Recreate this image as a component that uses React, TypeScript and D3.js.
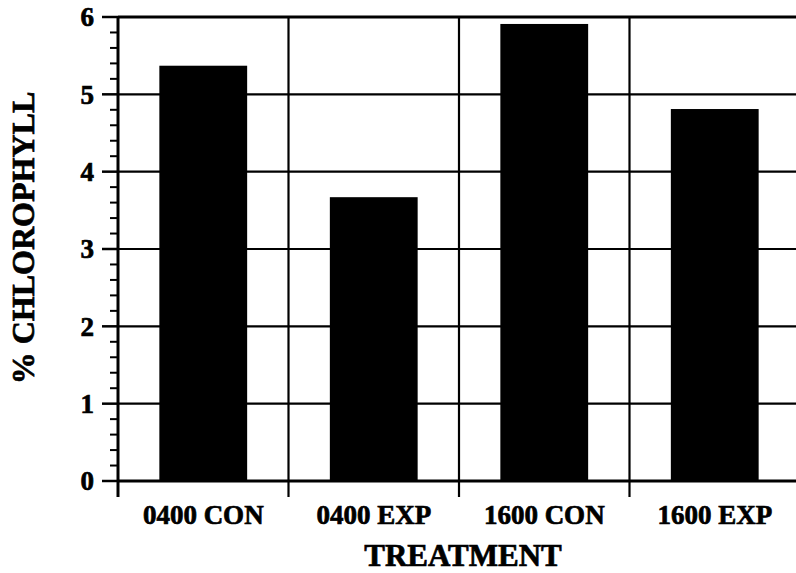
import React from "react";
import * as d3 from "d3";

const categories = ["0400 CON", "0400 EXP", "1600 CON", "1600 EXP"];
const values = [5.37, 3.67, 5.91, 4.81];
const yTicks = [0, 1, 2, 3, 4, 5, 6];

const W = 796, H = 573;
const left = 118, right = 800, top = 17, bottom = 481;
const FONT = "Liberation Serif";

export default function App() {
  const x = d3.scaleBand<string>().domain(categories).range([left, right]).padding(0);
  const y = d3.scaleLinear().domain([0, 6]).range([bottom, top]);
  const bw = x.bandwidth() * 0.515;
  const minor = d3.range(0, 6.0001, 0.2).filter((v) => Math.abs(v - Math.round(v)) > 1e-6);
  const boundaries = categories.map((c) => x(c) as number);
  const txt = { fontFamily: FONT, fontWeight: 700, stroke: "#000", strokeWidth: 0.7 } as React.CSSProperties;

  return (
    <svg width={W} height={H} style={{ position: "absolute", left: 0, top: 0, background: "#fff" }}>
      {yTicks.map((t) => (
        <line key={"g" + t} x1={left} x2={right} y1={y(t)} y2={y(t)} stroke="#000" strokeWidth={t === 0 || t === 6 ? 3 : 2.2} />
      ))}
      {boundaries.slice(1).map((b, i) => (
        <line key={"v" + i} x1={b} x2={b} y1={top} y2={bottom} stroke="#000" strokeWidth={2.2} />
      ))}
      {categories.map((c, i) => {
        const cx = (x(c) as number) + x.bandwidth() / 2;
        return (
          <rect key={c} x={cx - bw / 2} y={y(values[i])} width={bw} height={y(0) - y(values[i])} fill="#000" />
        );
      })}
      <line x1={left} x2={left} y1={top - 1} y2={bottom + 16} stroke="#000" strokeWidth={3} />
      {yTicks.map((t) => (
        <g key={"t" + t}>
          <line x1={left - 16} x2={left} y1={y(t)} y2={y(t)} stroke="#000" strokeWidth={2.5} />
          <text x={94} y={y(t)} dy="0.34em" textAnchor="end" style={{ ...txt, fontSize: 27 }}>
            {t}
          </text>
        </g>
      ))}
      {minor.map((m, i) => (
        <line key={"m" + i} x1={left - 8} x2={left} y1={y(m)} y2={y(m)} stroke="#000" strokeWidth={2} />
      ))}
      {boundaries.slice(1).map((b, i) => (
        <line key={"xt" + i} x1={b} x2={b} y1={bottom} y2={bottom + 16} stroke="#000" strokeWidth={2.2} />
      ))}
      {categories.map((c) => (
        <text key={"l" + c} x={(x(c) as number) + x.bandwidth() / 2} y={524} textAnchor="middle" style={{ ...txt, fontSize: 27 }}>
          {c}
        </text>
      ))}
      <text x={463} y={566} textAnchor="middle" style={{ ...txt, fontSize: 31 }}>
        TREATMENT
      </text>
      <text transform={`translate(34,238) rotate(-90)`} textAnchor="middle" style={{ ...txt, fontSize: 32 }}>
        % CHLOROPHYLL
      </text>
    </svg>
  );
}
